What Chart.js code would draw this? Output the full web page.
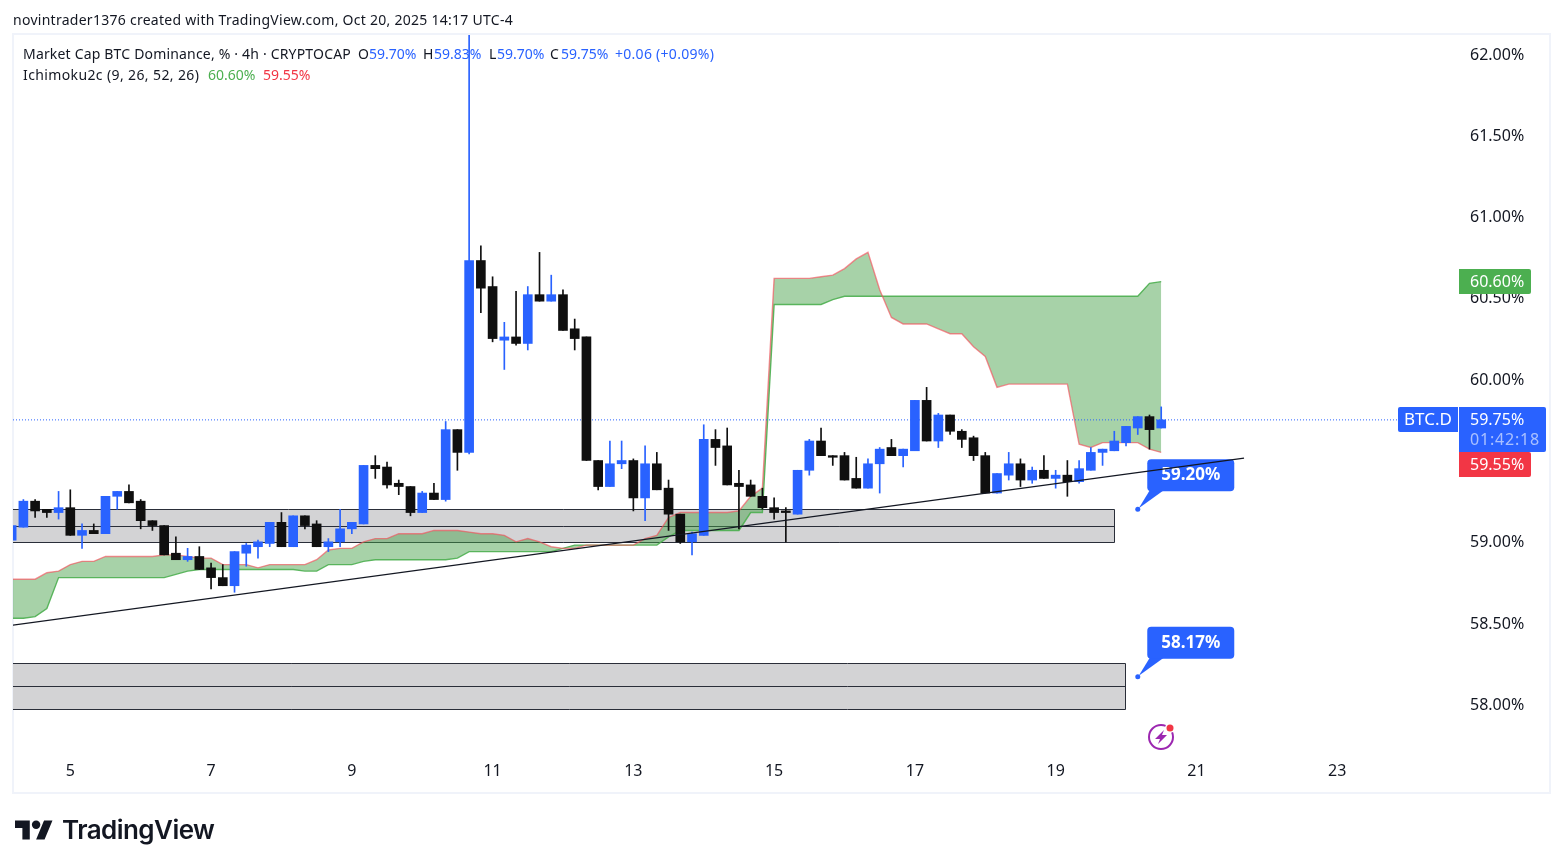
<!DOCTYPE html>
<html>
<head>
<meta charset="utf-8">
<title>BTC.D</title>
<script src="https://cdn.jsdelivr.net/npm/chart.js@4/dist/chart.umd.min.js"></script>
<style>
  html, body { margin: 0; padding: 0; background: #fff; }
  #wrap { position: relative; width: 1563px; height: 868px; overflow: hidden; font-family: "Noto Sans", sans-serif; color: #131722; }
  canvas { position: absolute; left: 0; top: 0; }
  .txt { position: absolute; white-space: nowrap; font-size: 14px; line-height: 18px; }
  .blue { color: #2962FF; }
  .green { color: #4CAF50; }
  .red { color: #F23645; }
  #logo { position: absolute; left: 15px; top: 820px; }
  #brand { position: absolute; left: 62px; top: 814px; font: 600 26px/32px Inter, sans-serif; color: #131722; letter-spacing: -0.55px; }
</style>
</head>
<body>
<div id="wrap">
  <canvas id="chart" width="1563" height="868"></canvas>
  <div class="txt" style="left:13px;top:11px;letter-spacing:.27px">novintrader1376 created with TradingView.com, Oct 20, 2025 14:17 UTC-4</div>
  <div class="txt" style="left:23px;top:45px;letter-spacing:.18px">Market Cap BTC Dominance, % · 4h · CRYPTOCAP</div>
  <div class="txt" style="left:358px;top:45px">O</div><div class="txt blue" style="left:369px;top:45px">59.70%</div>
  <div class="txt" style="left:423px;top:45px">H</div><div class="txt blue" style="left:434px;top:45px">59.83%</div>
  <div class="txt" style="left:489px;top:45px">L</div><div class="txt blue" style="left:497px;top:45px">59.70%</div>
  <div class="txt" style="left:550px;top:45px">C</div><div class="txt blue" style="left:561px;top:45px">59.75%</div>
  <div class="txt blue" style="left:615px;top:45px;letter-spacing:.28px">+0.06 (+0.09%)</div>
  <div class="txt" style="left:23px;top:66px;letter-spacing:.38px">Ichimoku2c (9, 26, 52, 26)</div>
  <div class="txt green" style="left:208px;top:66px">60.60%</div>
  <div class="txt red" style="left:263px;top:66px">59.55%</div>
  <svg id="logo" width="38" height="20" viewBox="0 4 36 18"><path fill="#131722" d="M14 22H7V11H0V4h14v18zM28 22h-8l7.5-18h8L28 22z"/><circle fill="#131722" cx="20" cy="8" r="4"/></svg>
  <div id="brand">TradingView</div>
</div>

<script>
// ---------- Data (4h bars, bar 0 = start of day 5) ----------
const firstBar = -5;
const opens = [
  59.01,59.09,59.25,59.20,59.18,59.21,59.04,59.07,59.05,59.28,
  59.31,59.25,59.13,59.10,58.93,58.89,58.91,58.84,58.78,58.73,
  58.93,58.97,58.99,59.12,58.97,59.16,59.11,58.97,59.00,59.08,
  59.11,59.47,59.46,59.36,59.34,59.18,59.30,59.26,59.69,59.55,
  60.73,60.57,60.24,60.26,60.22,60.52,60.48,60.52,60.31,60.26,
  59.50,59.34,59.48,59.50,59.27,59.48,59.33,59.17,59.00,59.04,
  59.63,59.59,59.36,59.35,59.28,59.21,59.19,59.17,59.44,59.62,
  59.53,59.53,59.39,59.33,59.48,59.58,59.53,59.56,59.87,59.62,
  59.78,59.68,59.64,59.53,59.30,59.41,59.48,59.38,59.44,59.39,
  59.41,59.37,59.44,59.55,59.56,59.61,59.70,59.77,59.70
];
const highs = [
  59.10,59.26,59.26,59.20,59.31,59.32,59.11,59.11,59.28,59.31,
  59.35,59.26,59.13,59.10,59.03,58.96,58.97,58.87,58.86,58.94,
  58.99,59.01,59.12,59.18,59.16,59.16,59.13,59.02,59.20,59.12,
  59.47,59.53,59.49,59.38,59.34,59.31,59.36,59.74,59.69,62.12,
  60.82,60.63,60.35,60.54,60.57,60.78,60.64,60.55,60.37,60.26,
  59.50,59.62,59.62,59.51,59.59,59.55,59.38,59.17,59.06,59.72,
  59.69,59.70,59.44,59.38,59.33,59.27,59.21,59.44,59.63,59.70,
  59.53,59.55,59.52,59.51,59.58,59.63,59.57,59.87,59.95,59.79,
  59.78,59.69,59.65,59.55,59.42,59.55,59.51,59.46,59.53,59.44,
  59.50,59.50,59.58,59.57,59.68,59.71,59.77,59.78,59.83
];
const lows = [
  59.01,59.09,59.15,59.15,59.14,59.04,58.96,59.05,59.05,59.20,
  59.24,59.08,59.07,58.92,58.89,58.88,58.83,58.71,58.73,58.69,
  58.85,58.90,58.97,58.97,58.97,59.08,58.97,58.94,58.97,59.05,
  59.11,59.39,59.33,59.29,59.16,59.18,59.26,59.25,59.44,59.54,
  60.41,60.23,60.06,60.21,60.18,60.48,60.48,60.30,60.18,59.50,
  59.32,59.34,59.45,59.19,59.13,59.32,59.07,58.99,58.92,59.04,
  59.47,59.35,59.08,59.28,59.20,59.14,59.00,59.17,59.41,59.53,
  59.47,59.38,59.33,59.33,59.30,59.53,59.46,59.56,59.62,59.58,
  59.66,59.58,59.50,59.30,59.30,59.38,59.34,59.36,59.39,59.33,
  59.28,59.36,59.44,59.47,59.56,59.59,59.66,59.57,59.70
];
const closes = [
  59.10,59.25,59.19,59.18,59.21,59.04,59.07,59.05,59.28,59.31,
  59.24,59.13,59.10,58.92,58.89,58.91,58.83,58.78,58.73,58.94,
  58.98,59.00,59.12,58.97,59.16,59.10,58.97,59.00,59.08,59.12,
  59.47,59.45,59.35,59.34,59.18,59.30,59.26,59.69,59.55,60.73,
  60.56,60.25,60.26,60.22,60.52,60.48,60.52,60.30,60.25,59.50,
  59.34,59.48,59.50,59.27,59.48,59.32,59.17,59.00,59.05,59.63,
  59.58,59.35,59.34,59.28,59.21,59.18,59.18,59.44,59.62,59.53,
  59.52,59.38,59.33,59.48,59.57,59.53,59.57,59.87,59.62,59.78,
  59.68,59.63,59.53,59.30,59.42,59.48,59.38,59.44,59.39,59.41,
  59.37,59.45,59.55,59.57,59.62,59.71,59.77,59.69,59.75
];
// Ichimoku cloud edges
const spanGreen = [
  58.53,58.53,58.54,58.59,58.78,58.78,58.78,58.78,58.78,58.78,
  58.78,58.78,58.78,58.78,58.80,58.82,58.83,58.83,58.83,58.83,
  58.83,58.83,58.83,58.83,58.83,58.82,58.82,58.86,58.86,58.86,
  58.88,58.89,58.89,58.89,58.89,58.89,58.89,58.89,58.90,58.94,
  58.94,58.94,58.94,58.94,58.94,58.94,58.94,58.96,58.98,58.98,
  58.98,58.98,58.98,58.98,58.98,58.98,59.03,59.07,59.07,59.07,
  59.07,59.07,59.07,59.18,59.18,60.46,60.46,60.46,60.46,60.46,
  60.49,60.51,60.51,60.51,60.51,60.51,60.51,60.51,60.51,60.51,
  60.51,60.51,60.51,60.51,60.51,60.51,60.51,60.51,60.51,60.51,
  60.51,60.51,60.51,60.51,60.51,60.51,60.51,60.59,60.60
];
const spanRed = [
  58.77,58.77,58.77,58.81,58.82,58.86,58.88,58.88,58.91,58.91,
  58.91,58.91,58.91,58.92,58.92,58.91,58.90,58.90,58.86,58.86,
  58.86,58.84,58.86,58.86,58.86,58.86,58.89,58.95,58.96,58.96,
  59.00,59.02,59.02,59.05,59.05,59.05,59.07,59.07,59.07,59.06,
  59.05,59.05,59.04,59.00,59.02,59.00,58.97,58.96,58.96,58.98,
  58.98,58.98,58.98,58.98,59.02,59.04,59.15,59.18,59.18,59.18,
  59.18,59.18,59.19,59.28,59.33,60.62,60.62,60.62,60.62,60.63,
  60.64,60.68,60.74,60.78,60.55,60.38,60.34,60.34,60.34,60.31,
  60.28,60.28,60.20,60.14,59.95,59.97,59.97,59.97,59.97,59.97,
  59.97,59.60,59.58,59.61,59.61,59.61,59.61,59.57,59.55
];

// Axis ticks
const priceTicks = [58, 58.5, 59, 59.5, 60, 60.5, 61, 61.5, 62];
const dayTicks = [0, 12, 24, 36, 48, 60, 72, 84, 96, 108];
const dayLabels = ["5", "7", "9", "11", "13", "15", "17", "19", "21", "23"];

// Drawings
const trendBars = [-4.89, 100.06];
const trendPrices = [58.488, 59.515];
const boxTops = [59.20, 58.255];
const boxMids = [59.10, 58.115];
const boxBottoms = [59.00, 57.97];
const boxEnds = [89, 89.94];
const calloutBar = 91;
const calloutPrices = [59.20, 58.17];
const lastPrice = 59.75;
const countdown = "01:42:18";
const cloudTop = 60.60;
const cloudBottom = 59.55;

// ---------- Colors ----------
const UP = "#2962FF";
const DOWN = "#0F0F0F";
const INK = "#131722";
const FONT = '"Noto Sans", sans-serif';

const barX = (_, i) => i + firstBar;
const candleColor = i => closes[i] >= opens[i] ? UP : DOWN;

// ---------- Helpers ----------
function roundRect(ctx, x, y, w, h, r, color) {
  ctx.fillStyle = color;
  ctx.beginPath();
  ctx.roundRect(x, y, w, h, r);
  ctx.fill();
}

function tagText(ctx, text, x, y, font, color, align) {
  ctx.font = font;
  ctx.fillStyle = color;
  ctx.textAlign = align || "left";
  ctx.textBaseline = "middle";
  ctx.fillText(text, x, y);
}

function drawCallouts(chart) {
  const { ctx, scales } = chart;
  const ax = scales.x.getPixelForValue(calloutBar);
  calloutPrices.forEach(p => {
    const ay = scales.y.getPixelForValue(p);
    ctx.fillStyle = UP;
    ctx.beginPath();
    ctx.moveTo(ax + 12, ay - 19);
    ctx.lineTo(ax + 26, ay - 19);
    ctx.lineTo(ax + 1, ay - 1);
    ctx.closePath();
    ctx.fill();
    ctx.beginPath();
    ctx.arc(ax, ay, 2.5, 0, Math.PI * 2);
    ctx.fill();
    roundRect(ctx, ax + 9.5, ay - 50, 87, 32, 4, UP);
    tagText(ctx, p.toFixed(2) + "%", ax + 53, ay - 34, "bold 17px " + FONT, "#fff", "center");
  });
}

function drawIcon(ctx) {
  const cx = 1161, cy = 737;
  ctx.strokeStyle = "#9C27B0";
  ctx.lineWidth = 2;
  ctx.beginPath();
  ctx.arc(cx, cy, 12, 0, Math.PI * 2);
  ctx.stroke();
  ctx.fillStyle = "#9C27B0";
  ctx.beginPath();
  [[3, -7], [-6, 2], [-1, 2], [-3, 7], [6, -2], [1, -2]].forEach(([dx, dy], i) => {
    if (i === 0) ctx.moveTo(cx + dx, cy + dy);
    else ctx.lineTo(cx + dx, cy + dy);
  });
  ctx.closePath();
  ctx.fill();
  ctx.fillStyle = "#fff";
  ctx.beginPath();
  ctx.arc(1170, 728, 5, 0, Math.PI * 2);
  ctx.fill();
  ctx.fillStyle = "#F23645";
  ctx.beginPath();
  ctx.arc(1170, 728, 3.5, 0, Math.PI * 2);
  ctx.fill();
}

// ---------- Chart decorations ----------
const decorations = {
  id: "decorations",
  beforeDraw(chart) {
    // pane frame
    const ctx = chart.ctx;
    ctx.save();
    ctx.strokeStyle = "#F0F3FA";
    ctx.lineWidth = 2;
    ctx.strokeRect(13, 34, 1537, 759);
    ctx.restore();
  },
  beforeDatasetsDraw(chart) {
    // grey zones
    const { ctx, scales, chartArea } = chart;
    ctx.save();
    ctx.strokeStyle = "#2A2E39";
    ctx.lineWidth = 1;
    boxTops.forEach((top, i) => {
      const right = Math.round(scales.x.getPixelForValue(boxEnds[i])) + 0.5;
      const t = Math.round(scales.y.getPixelForValue(top)) + 0.5;
      const m = Math.round(scales.y.getPixelForValue(boxMids[i])) + 0.5;
      const b = Math.round(scales.y.getPixelForValue(boxBottoms[i])) + 0.5;
      ctx.fillStyle = "#D3D3D5";
      ctx.fillRect(chartArea.left, t, right - chartArea.left, b - t);
      ctx.beginPath();
      ctx.moveTo(chartArea.left, t); ctx.lineTo(right, t); ctx.lineTo(right, b); ctx.lineTo(chartArea.left, b);
      ctx.moveTo(chartArea.left, m); ctx.lineTo(right, m);
      ctx.stroke();
    });
    ctx.restore();
  },
  beforeDatasetDraw(chart, args) {
    // callouts sit under the trend line
    if (chart.data.datasets[args.index].label === "Trend") {
      chart.ctx.save();
      drawCallouts(chart);
      chart.ctx.restore();
    }
  },
  afterDraw(chart) {
    const { ctx, scales } = chart;
    ctx.save();
    drawIcon(ctx);
    const tags = [[cloudTop, "#4CAF50"], [cloudBottom, "#F23645"]];
    const yLast = Math.round(scales.y.getPixelForValue(lastPrice));
    // symbol + last price tag
    roundRect(ctx, 1398, yLast - 13, 60, 25, [2, 0, 0, 2], UP);
    tagText(ctx, "BTC.D", 1428, yLast + 0.5, "17px " + FONT, "#fff", "center");
    roundRect(ctx, 1459, yLast - 13, 87, 45, [0, 2, 2, 0], UP);
    tagText(ctx, lastPrice.toFixed(2) + "%", 1470, yLast + 0.5, "16px " + FONT, "#fff");
    ctx.letterSpacing = "0.8px";
    tagText(ctx, countdown, 1470, yLast + 20.5, "16px " + FONT, "rgba(255,255,255,0.6)");
    ctx.letterSpacing = "0px";
    // ichimoku tags (red one is pushed below the last price tag)
    tags.forEach(([p, color], i) => {
      const y = i === 0 ? Math.round(scales.y.getPixelForValue(p)) : yLast + 45;
      roundRect(ctx, 1459, y - 13, 72, 25, [0, 2, 2, 0], color);
      tagText(ctx, p.toFixed(2) + "%", 1470, y + 0.5, "16px " + FONT, "#fff");
    });
    ctx.restore();
  }
};

// ---------- Chart ----------
new Chart(document.getElementById("chart"), {
  data: {
    datasets: [
      {
        label: "Trend", type: "line", order: 0,
        data: trendBars.map((x, i) => ({ x, y: trendPrices[i] })),
        borderColor: INK, borderWidth: 1.2, pointRadius: 0
      },
      {
        label: "Body", type: "bar", order: 1, grouped: false, barThickness: 9,
        data: opens.map((o, i) => ({ x: barX(o, i), y: [o, closes[i]] })),
        backgroundColor: c => candleColor(c.dataIndex)
      },
      {
        label: "Wick", type: "bar", order: 2, grouped: false, barThickness: 1,
        data: highs.map((h, i) => ({ x: barX(h, i), y: [lows[i], h] })),
        backgroundColor: c => candleColor(c.dataIndex)
      },
      {
        label: "Last", type: "line", order: 3,
        data: [{ x: -4.885, y: lastPrice }, { x: 118.3, y: lastPrice }],
        borderColor: UP, borderWidth: 1, borderDash: [1, 2], pointRadius: 0
      },
      {
        label: "Span red", type: "line", order: 4,
        data: spanRed.map((v, i) => ({ x: barX(v, i), y: v })),
        borderColor: "rgba(242,80,90,0.65)", borderWidth: 1.4, pointRadius: 0, tension: 0, fill: false
      },
      {
        label: "Span green", type: "line", order: 5,
        data: spanGreen.map((v, i) => ({ x: barX(v, i), y: v })),
        borderColor: "rgba(76,175,80,0.9)", borderWidth: 1.4, pointRadius: 0, tension: 0,
        fill: { target: 4, above: "rgba(67,160,71,0.47)", below: "rgba(67,160,71,0.47)" }
      }
    ]
  },
  options: {
    responsive: false,
    animation: false,
    devicePixelRatio: 1,
    layout: { padding: { left: 13, top: 35, right: 0, bottom: 0 } },
    plugins: { legend: { display: false }, tooltip: { enabled: false } },
    scales: {
      x: {
        type: "linear",
        offset: false,
        min: -4.885,
        max: 118.3,
        grid: { display: false, drawTicks: false },
        border: { display: false },
        afterFit: s => { s.height = 113; },
        afterBuildTicks: s => { s.ticks = dayTicks.map(value => ({ value })); },
        ticks: {
          padding: 7,
          maxRotation: 0,
          autoSkip: false,
          color: INK,
          font: { family: "Noto Sans", size: 16 },
          callback: v => dayLabels[dayTicks.indexOf(v)]
        }
      },
      y: {
        position: "right",
        min: 57.689,
        max: 62.117,
        grid: { display: false, drawTicks: false },
        border: { display: false },
        afterFit: s => { s.width = 105; },
        afterBuildTicks: s => { s.ticks = priceTicks.map(value => ({ value })); },
        ticks: {
          padding: 12,
          labelOffset: 1,
          color: INK,
          font: { family: "Noto Sans", size: 16 },
          callback: v => v.toFixed(2) + "%"
        }
      }
    }
  },
  plugins: [decorations]
});
</script>
</body>
</html>
